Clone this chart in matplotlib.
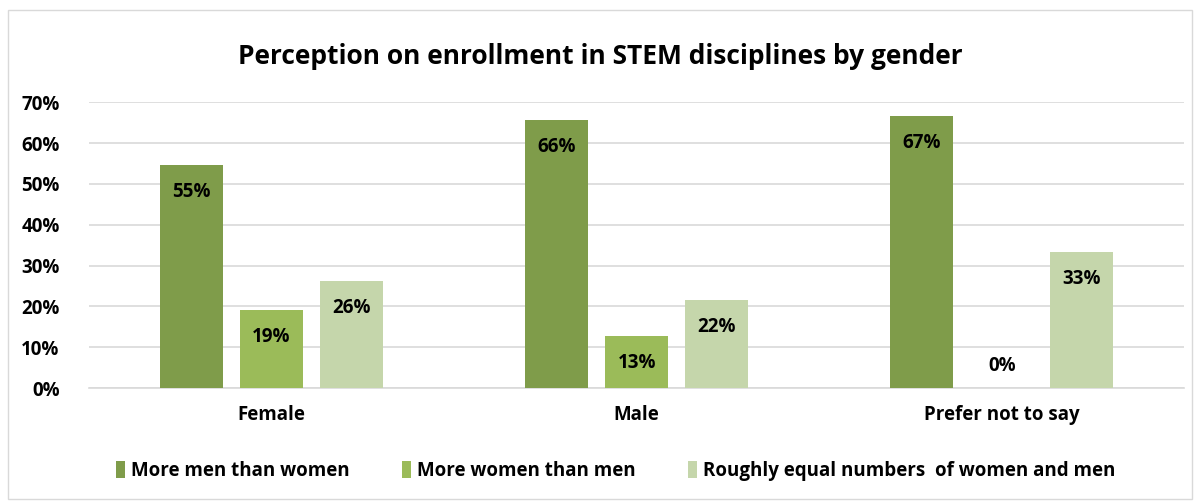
import numpy as np
import matplotlib.pyplot as plt
from matplotlib.patches import Rectangle

plt.rcParams['font.family'] = ['Open Sans', 'DejaVu Sans']
plt.rcParams['font.weight'] = 'bold'

categories = ['Female', 'Male', 'Prefer not to say']
series_names = ['More men than women', 'More women than men',
                'Roughly equal numbers  of women and men']
more_men = [0.547, 0.656, 0.667]
more_women = [0.192, 0.128, 0.0]
roughly_equal = [0.262, 0.216, 0.333]
yticks = [0, 0.1, 0.2, 0.3, 0.4, 0.5, 0.6, 0.7]

colors = ['#7F9C4A', '#9BBB59', '#C5D6AB']

fig = plt.figure(figsize=(12, 5.04), dpi=100)
ax = fig.add_axes([0.074, 0.23, 0.913, 0.567])

# light border round the whole chart
fig.patches.append(Rectangle((0.007, 0.01), 0.986, 0.97, transform=fig.transFigure,
                             fill=False, edgecolor='#D9D9D9', linewidth=1))

x = np.arange(len(categories))
width = 0.173
offsets = [-0.219, 0, 0.219]
for vals, off, col, name in zip([more_men, more_women, roughly_equal], offsets, colors, series_names):
    bars = ax.bar(x + off, vals, width, color=col, label=name, zorder=3)
    for xi, v in zip(x + off, vals):
        ypos = v - 0.066 if v > 0.1 else 0.054
        ax.text(xi, ypos, f"{v * 100:.0f}%", ha='center', va='center',
                fontsize=13.5, fontweight='bold', color='black', zorder=4)

ax.set_xlim(-0.5, 2.5)
ax.set_ylim(0, 0.7)
ax.set_yticks(yticks)
ax.set_yticklabels([f"{int(round(t * 100))}%" for t in yticks])
ax.yaxis.grid(True, color='#D9D9D9', linewidth=1.2, zorder=0)
ax.set_axisbelow(True)
for s in ['top', 'right', 'left']:
    ax.spines[s].set_visible(False)
ax.spines['bottom'].set_color('#D9D9D9')
ax.spines['bottom'].set_linewidth(1.2)
ax.set_xticks(x)
ax.set_xticklabels(categories)
ax.tick_params(axis='both', length=0, labelsize=13.5)
ax.tick_params(axis='y', pad=21)
ax.tick_params(axis='x', pad=12)

fig.suptitle('Perception on enrollment in STEM disciplines by gender', y=0.915,
             fontsize=19, fontweight='bold')

fig.legend(loc='lower center', bbox_to_anchor=(0.513, 0.012), ncol=3, frameon=False,
           fontsize=13.5, handlelength=0.5, handleheight=1.0, handletextpad=0.3,
           columnspacing=2.8)

fig.savefig('out.png', dpi=100)
